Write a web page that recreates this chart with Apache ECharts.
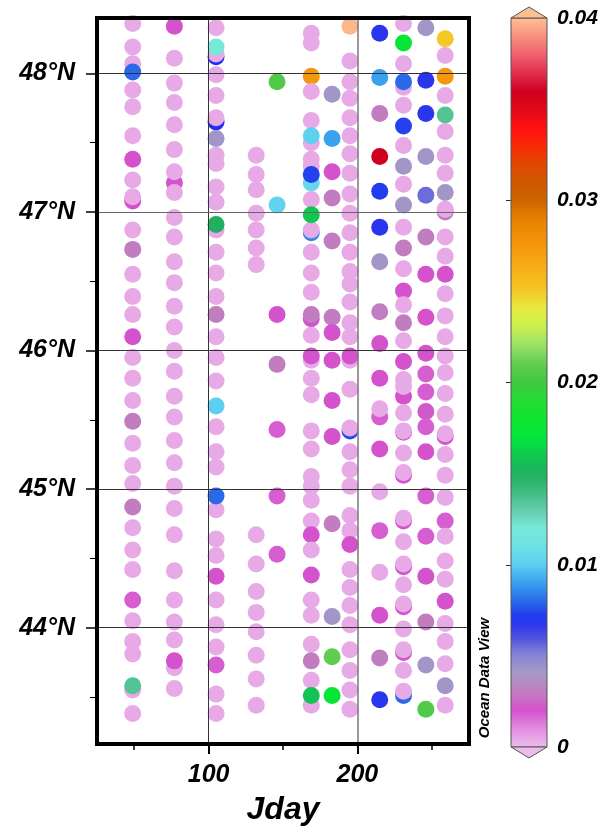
<!DOCTYPE html>
<html><head><meta charset="utf-8">
<script src="https://cdn.jsdelivr.net/npm/echarts@6/dist/echarts.min.js"></script>
<style>html,body{margin:0;padding:0;background:#fff}#c{width:608px;height:831px}</style>
</head><body><div id="c"></div>
<script>
// ---- data ----
const COLUMN_JDAY = [49, 77, 105, 132, 146, 169, 183, 195, 215, 231, 246, 259];

const latA = [48.36,48.19,48.07,48.01,47.88,47.76,47.55,47.38,47.23,47.08,47.11,46.87,46.73,46.55,46.39,46.26,46.10,45.95,45.80,45.64,45.49,45.33,45.17,45.04,44.87,44.72,44.56,44.42,44.20,44.05,43.90,43.81,43.55,43.58,43.38];
const valA = [0.0004,0.0004,0.0004,0.008,0.0004,0.0004,0.0004,0.002,0.0004,0.002,0.0004,0.0004,0.003,0.0004,0.0004,0.0004,0.002,0.0004,0.0004,0.0004,0.003,0.0004,0.0004,0.0004,0.003,0.0004,0.0004,0.0004,0.0018,0.0004,0.0004,0.0004,0.0004,0.0135,0.0004];

const latB = [48.34,48.11,47.93,47.79,47.63,47.45,47.21,47.29,47.14,46.96,46.82,46.64,46.49,46.32,46.17,46.00,45.85,45.67,45.52,45.35,45.19,45.02,44.86,44.67,44.41,44.20,44.04,43.91,43.71,43.76,43.56];
const valB = [0.002,0.0004,0.0004,0.0004,0.0004,0.0004,0.002,0.0004,0.0004,0.0004,0.0004,0.0004,0.0004,0.0004,0.0004,0.0004,0.0004,0.0004,0.0004,0.0004,0.0004,0.0004,0.0004,0.0004,0.0004,0.0004,0.0004,0.0004,0.0004,0.002,0.0004];

const latC = [48.33,48.12,48.14,48.19,47.99,47.84,47.65,47.68,47.53,47.41,47.35,47.18,47.07,46.87,46.91,46.71,46.56,46.39,46.26,46.10,45.95,45.78,45.60,45.45,45.27,45.16,44.85,44.95,44.64,44.52,44.37,44.20,44.02,43.86,43.73,43.52,43.38];
const valC = [0.0004,0.007,0.0004,0.012,0.0004,0.0004,0.007,0.0004,0.0042,0.0004,0.0004,0.0004,0.0004,0.0004,0.015,0.0004,0.0004,0.0004,0.003,0.0004,0.0004,0.0004,0.010,0.0004,0.0004,0.0004,0.0004,0.008,0.0004,0.0004,0.002,0.0004,0.0004,0.0004,0.0018,0.0004,0.0004];

const latD = [47.41,47.27,47.16,46.99,46.87,46.74,46.62,44.67,44.46,44.26,44.11,43.97,43.80,43.63,43.44];
const valD = [0.0004,0.0004,0.0004,0.0004,0.0004,0.0004,0.0004,0.0004,0.0004,0.0004,0.0004,0.0004,0.0004,0.0004,0.0004];

const latE = [47.94,47.05,46.26,45.90,45.43,44.95,44.53];
const valE = [0.0205,0.0102,0.002,0.003,0.0018,0.0018,0.0018];

const latF = [48.29,48.22,47.98,47.87,47.66,47.50,47.55,47.38,47.33,47.21,47.27,47.09,46.85,46.87,46.98,46.71,46.56,46.42,46.23,46.26,46.11,45.93,45.96,45.80,45.68,45.42,45.29,45.09,45.02,44.92,44.77,44.67,44.56,44.38,44.20,44.09,43.88,43.76,43.62,43.44,43.51];
const valF = [0.0004,0.0004,0.0275,0.0004,0.0004,0.0004,0.0101,0.0004,0.0004,0.0105,0.0073,0.0004,0.0085,0.0004,0.016,0.0004,0.0004,0.0004,0.002,0.003,0.0004,0.0004,0.002,0.0004,0.0004,0.0004,0.0004,0.0004,0.0004,0.0004,0.0004,0.002,0.0004,0.002,0.0004,0.0004,0.0004,0.003,0.0004,0.0004,0.0158];

const latG = [47.85,47.53,47.29,47.10,46.79,46.24,46.13,45.93,45.64,45.38,44.75,44.08,43.79,43.51];
const valG = [0.0042,0.009,0.002,0.003,0.003,0.003,0.002,0.002,0.002,0.002,0.003,0.0042,0.021,0.0175];

const latH = [48.34,48.09,47.94,47.82,47.68,47.55,47.42,47.28,47.13,46.99,46.85,46.71,46.57,46.48,46.35,46.20,46.10,45.93,45.96,45.72,45.42,45.44,45.27,45.14,45.02,44.81,44.70,44.60,44.42,44.29,44.16,44.02,43.84,43.69,43.55,43.41];
const valH = [0.0398,0.0004,0.0004,0.0004,0.0004,0.0004,0.0004,0.0004,0.0004,0.0004,0.0004,0.0004,0.0004,0.0004,0.0004,0.0004,0.0004,0.0004,0.002,0.0004,0.0075,0.0004,0.0004,0.0004,0.0004,0.0004,0.0004,0.002,0.0004,0.0004,0.0004,0.0004,0.0004,0.0004,0.0004,0.0004];

const latI = [48.29,47.97,47.71,47.40,47.15,46.89,46.64,46.28,46.05,45.80,45.52,45.58,45.29,44.98,44.70,44.40,44.09,43.78,43.48];
const valI = [0.0068,0.009,0.003,0.036,0.0072,0.0068,0.0042,0.003,0.002,0.002,0.0018,0.0004,0.002,0.0004,0.0018,0.0004,0.002,0.003,0.0068];

const latJ = [48.36,48.22,48.07,47.90,47.94,47.77,47.62,47.48,47.33,47.20,47.05,46.89,46.74,46.59,46.43,46.33,46.20,46.07,45.92,45.79,45.67,45.74,45.55,45.41,45.42,45.26,45.10,45.12,44.77,44.79,44.62,44.44,44.46,44.31,44.15,44.17,43.99,43.82,43.84,43.69,43.51,43.54];
const valJ = [0.0004,0.0175,0.0004,0.0004,0.008,0.0004,0.0073,0.0004,0.0042,0.0004,0.0042,0.0004,0.003,0.0004,0.002,0.0004,0.003,0.0004,0.002,0.0004,0.002,0.0004,0.0004,0.002,0.0004,0.0004,0.002,0.0004,0.002,0.0004,0.0004,0.002,0.0004,0.0004,0.002,0.0004,0.0004,0.002,0.0004,0.0004,0.008,0.0004];

const latK = [48.33,47.95,47.71,47.40,47.12,46.82,46.55,46.24,45.98,45.83,45.70,45.56,45.45,45.27,44.95,44.66,44.37,44.04,43.73,43.41];
const valK = [0.0042,0.0068,0.0068,0.0042,0.0055,0.003,0.002,0.002,0.002,0.0018,0.0018,0.0022,0.0018,0.002,0.0018,0.0018,0.002,0.003,0.0042,0.0205];

const latL = [48.25,48.13,47.98,47.84,47.70,47.58,47.41,47.28,47.14,47.00,47.02,46.82,46.68,46.55,46.41,46.25,46.10,45.96,45.84,45.69,45.54,45.38,45.40,45.25,45.10,44.94,44.77,44.66,44.48,44.35,44.19,44.03,43.90,43.74,43.58,43.44];
const valL = [0.025,0.0004,0.0275,0.0004,0.0135,0.0004,0.0004,0.0004,0.0042,0.003,0.0004,0.0004,0.0004,0.002,0.0004,0.0004,0.0004,0.0004,0.0004,0.0004,0.0004,0.002,0.0004,0.0004,0.0004,0.0004,0.0018,0.0004,0.0004,0.0004,0.002,0.0004,0.0004,0.0004,0.0042,0.0004];

const COLUMN_LAT = [latA, latB, latC, latD, latE, latF, latG, latH, latI, latJ, latK, latL];
const COLUMN_VAL = [valA, valB, valC, valD, valE, valF, valG, valH, valI, valJ, valK, valL];

const X_MAJOR = [100, 200];
const X_MINOR = [50, 150, 250];
const Y_MAJOR = [44, 45, 46, 47, 48];
const Y_MINOR = [43.5, 44.5, 45.5, 46.5, 47.5];
const CBAR_TICKS = [0, 0.01, 0.02, 0.03, 0.04];

// ---- colour map (ODV-like, stops every 0.001 from 0 to 0.04) ----
const COLORS = ['#ecbcec','#e08ee0','#d452cc','#c27cc0','#a898c4','#8a88d4','#5050e2','#2030f0','#2a6aea','#3aa0f0',
 '#5ccff2','#6ee2e4','#78e8d8','#64ccaa','#40bc80','#20b060','#10c850','#00e83a','#10e430','#22dd33',
 '#40c840','#60cc50','#98e068','#c8f050','#e4ec40','#f5c828','#f7b418','#f8a010','#f09008','#e88000',
 '#cc6400','#d05800','#e04800','#f82a08','#ff1010','#e00818','#d00020','#e03050','#f06070','#f89080','#ffc090'];

const data = [];
COLUMN_JDAY.forEach((jd, i) => {
  COLUMN_LAT[i].forEach((la, k) => data.push([jd, la, COLUMN_VAL[i][k]]));
});

const FONT = 'Liberation Sans';
const lblStyle = (size) => ({fontFamily: FONT, fontSize: size, fontWeight: 'bold', fontStyle: 'italic', color: '#000'});

const chart = echarts.init(document.getElementById('c'), null, {renderer: 'canvas'});
const gridLineData = X_MAJOR.map(v => ({xAxis: v, lineStyle: {type: 'solid', color: v === 200 ? '#777' : '#333', width: v === 200 ? 1.5 : 1}}))
  .concat(Y_MAJOR.map(v => ({yAxis: v, lineStyle: {type: 'solid', color: v === 47 ? '#666' : '#333', width: 1}})));

chart.setOption({
  animation: false,
  backgroundColor: '#fff',
  grid: [
    {left: 97, top: 18, right: 139, bottom: 84, show: true, borderColor: '#000', borderWidth: 4, backgroundColor: 'transparent', z: 10},
    {left: 511, top: 18, width: 36, height: 729, show: true, borderColor: '#555', borderWidth: 1, backgroundColor: 'transparent', z: 10}
  ],
  xAxis: [
    {gridIndex: 0, type: 'value', min: 25, max: 275, position: 'bottom',
     axisLine: {show: false}, splitLine: {show: false},
     axisTick: {show: true, customValues: X_MAJOR, length: 10, lineStyle: {color: '#000', width: 2}},
     axisLabel: Object.assign({customValues: X_MAJOR, margin: 19}, lblStyle(25)),
     name: 'Jday', nameLocation: 'middle', nameGap: 50, nameTextStyle: lblStyle(32)},
    {gridIndex: 0, type: 'value', min: 25, max: 275, position: 'bottom',
     axisLine: {show: false}, splitLine: {show: false},
     axisTick: {show: true, customValues: X_MINOR, length: 6, lineStyle: {color: '#000', width: 1.5}},
     axisLabel: {show: false}},
    {gridIndex: 1, type: 'value', min: 0, max: 1, show: false}
  ],
  yAxis: [
    {gridIndex: 0, type: 'value', min: 43.16, max: 48.4, position: 'left',
     axisLine: {show: false}, splitLine: {show: false},
     axisTick: {show: true, customValues: Y_MAJOR, length: 11, lineStyle: {color: '#000', width: 1.5}},
     axisLabel: Object.assign({customValues: Y_MAJOR, margin: 22, formatter: v => v + '°N'}, lblStyle(25))},
    {gridIndex: 0, type: 'value', min: 43.16, max: 48.4, position: 'left',
     axisLine: {show: false}, splitLine: {show: false},
     axisTick: {show: true, customValues: Y_MINOR, length: 7, lineStyle: {color: '#000', width: 1}},
     axisLabel: {show: false}},
    {gridIndex: 1, type: 'value', min: 0, max: 0.04, position: 'right',
     axisLine: {show: false}, splitLine: {show: false},
     axisTick: {show: true, inside: true, customValues: [0.01, 0.02, 0.03], length: 5, lineStyle: {color: '#333', width: 1}},
     axisLabel: Object.assign({customValues: CBAR_TICKS, margin: 10, showMinLabel: true, showMaxLabel: true,
       formatter: v => v === 0 ? '0' : v.toFixed(2)}, lblStyle(21))},
    {gridIndex: 1, type: 'value', min: 0, max: 0.04, position: 'left',
     axisLine: {show: false}, splitLine: {show: false},
     axisTick: {show: true, inside: true, customValues: [0.01, 0.02, 0.03], length: 5, lineStyle: {color: '#333', width: 1}},
     axisLabel: {show: false}}
  ],
  visualMap: {
    type: 'continuous', seriesIndex: 0, dimension: 2, min: 0, max: 0.04,
    inRange: {color: COLORS}, left: 511, top: 18, itemWidth: 36, itemHeight: 729,
    padding: 0, calculable: false, show: true, z: 4
  },
  series: [
    {type: 'scatter', xAxisIndex: 0, yAxisIndex: 0, symbol: 'circle', symbolSize: 17, data: data,
     itemStyle: {opacity: 1}, z: 2, clip: true, silent: true},
    {type: 'scatter', xAxisIndex: 0, yAxisIndex: 0, data: [], z: 6, silent: true,
     markLine: {silent: true, symbol: ['none', 'none'], label: {show: false}, animation: false,
       lineStyle: {type: 'solid'}, data: gridLineData}}
  ],
  graphic: [
    {type: 'polygon', shape: {points: [[511, 18], [529, 7], [547, 18]]}, style: {fill: '#ffc090', stroke: '#555', lineWidth: 1}, z: 20},
    {type: 'polygon', shape: {points: [[511, 747], [529, 758], [547, 747]]}, style: {fill: '#ecbcec', stroke: '#555', lineWidth: 1}, z: 20},
    {type: 'text', x: 485, y: 678, rotation: Math.PI / 2,
     style: {text: 'Ocean Data View', font: 'bold italic 15px "Liberation Sans"', fill: '#000', align: 'center', verticalAlign: 'middle'}, z: 20}
  ]
});
</script></body></html>
